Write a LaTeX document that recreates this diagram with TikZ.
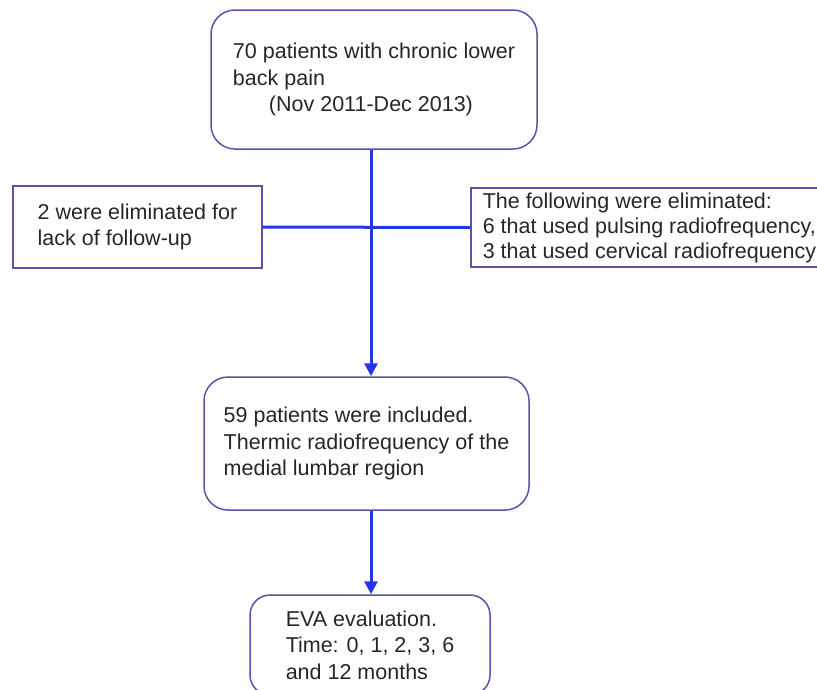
\documentclass[tikz,border=0pt]{standalone}
\usepackage{fontspec}
\setmainfont{Liberation Sans}
\usetikzlibrary{arrows.meta}
\definecolor{boxline}{RGB}{85,85,170}
\definecolor{conn}{RGB}{35,55,230}
\begin{document}
\begin{tikzpicture}[x=1pt,y=-1pt,
  txt/.style={font=\fontsize{21.5}{26.5}\selectfont, align=left, text=black!85},
  roundbox/.style={txt, draw=boxline, line width=1.5pt, rounded corners=24pt, inner sep=0pt},
  plainbox/.style={txt, draw=boxline, line width=1.5pt, inner sep=0pt},
  link/.style={draw=conn, line width=3pt},
  arrowlink/.style={link, -{Triangle[length=13pt,width=13pt]}}]
\useasboundingbox (0,0) rectangle (817,689);
\node[roundbox, minimum width=326pt, minimum height=139pt] (top) at (374,79.5)
  {70 patients with chronic lower\\back pain\\\hspace*{36pt}(Nov 2011-Dec 2013)};
\node[plainbox, minimum width=249pt, minimum height=82pt] (left) at (137.5,227)
  {2 were eliminated for\\lack of follow-up};
\node[plainbox, minimum height=79pt, inner xsep=12pt, anchor=west,
  font=\fontsize{21.5}{25}\selectfont] (right) at (470,227.5)
  {The following were eliminated:\\6 that used pulsing radiofrequency,\\3 that used cervical radiofrequency};
\node[roundbox, minimum width=325pt, minimum height=133pt] (mid) at (366.5,443.5)
  {59 patients were included.\\Thermic radiofrequency of the\\medial lumbar region};
\node[roundbox, rounded corners=20pt, minimum width=240pt, minimum height=100pt] (eva) at (370,645)
  {EVA evaluation.\\Time: 0, 1, 2, 3, 6\\and 12 months};
\coordinate (spine) at (371,0);
\draw[arrowlink] (top.south -| spine) -- (mid.north -| spine);
\draw[link] (left.east) -- (right.west);
\draw[arrowlink] (mid.south -| spine) -- (eva.north -| spine);
\end{tikzpicture}
\end{document}
